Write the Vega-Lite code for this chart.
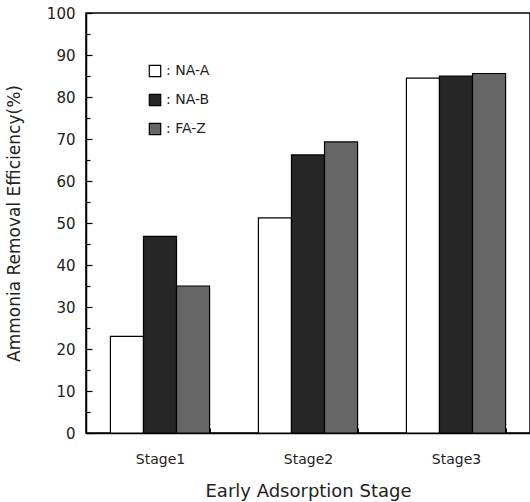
{
  "$schema": "https://vega.github.io/schema/vega-lite/v6.json",
  "autosize": "none",
  "width": 444,
  "height": 420,
  "padding": {"left": 86, "top": 13, "right": 0, "bottom": 69},
  "background": "white",
  "config": {
    "view": {"stroke": "black", "strokeWidth": 1.5},
    "font": "DejaVu Sans"
  },
  "data": {
    "values": [
      {"stage": "Stage1", "adsorbent": "NA-A", "efficiency": 23},
      {"stage": "Stage1", "adsorbent": "NA-B", "efficiency": 46.8},
      {"stage": "Stage1", "adsorbent": "FA-Z", "efficiency": 35},
      {"stage": "Stage2", "adsorbent": "NA-A", "efficiency": 51.2},
      {"stage": "Stage2", "adsorbent": "NA-B", "efficiency": 66.2},
      {"stage": "Stage2", "adsorbent": "FA-Z", "efficiency": 69.3},
      {"stage": "Stage3", "adsorbent": "NA-A", "efficiency": 84.5},
      {"stage": "Stage3", "adsorbent": "NA-B", "efficiency": 85},
      {"stage": "Stage3", "adsorbent": "FA-Z", "efficiency": 85.6}
    ]
  },
  "layer": [
    {
      "mark": {"type": "bar", "stroke": "black", "strokeWidth": 1.2},
      "encoding": {
        "x": {
          "field": "stage", "type": "nominal",
          "scale": {"paddingInner": 0.33, "paddingOuter": 0.165},
          "axis": {
            "title": "Early Adsorption Stage",
            "titleFont": "DejaVu Sans", "titleFontSize": 18, "titleFontWeight": "normal",
            "titleColor": "#222", "titlePadding": 16,
            "labelAngle": 0, "labelFontSize": 14, "labelColor": "#222", "labelPadding": 24,
            "domainColor": "black", "domainWidth": 1.5,
            "tickBand": "extent", "tickSize": -5, "tickColor": "black",
            "grid": false
          }
        },
        "xOffset": {"field": "adsorbent", "type": "nominal", "sort": ["NA-A", "NA-B", "FA-Z"], "scale": {"paddingInner": 0, "paddingOuter": 0}},
        "y": {
          "field": "efficiency", "type": "quantitative",
          "scale": {"domain": [0, 100], "nice": false},
          "axis": {
            "title": "Ammonia Removal Efficiency(%)",
            "titleFont": "DejaVu Sans", "titleFontSize": 17, "titleFontWeight": "normal",
            "titleColor": "#222", "titlePadding": 23,
            "values": [0, 10, 20, 30, 40, 50, 60, 70, 80, 90, 100],
            "labelFontSize": 15, "labelColor": "#222", "labelPadding": 17,
            "domainColor": "black", "domainWidth": 1.5,
            "tickSize": -6, "tickColor": "black", "tickWidth": 1.2,
            "grid": false
          }
        },
        "fill": {
          "field": "adsorbent", "type": "nominal",
          "sort": ["NA-A", "NA-B", "FA-Z"],
          "scale": {"domain": ["NA-A", "NA-B", "FA-Z"], "range": ["#ffffff", "#262626", "#666666"]},
          "legend": {
            "orient": "none", "legendX": 62, "legendY": 51,
            "title": null,
            "symbolType": "square", "symbolSize": 130, "symbolStrokeColor": "black", "symbolStrokeWidth": 1.2,
            "labelExpr": "': ' + datum.label",
            "labelFontSize": 14, "labelColor": "#222", "rowPadding": 11, "labelOffset": 4
          }
        }
      }
    },
    {
      "mark": {"type": "bar", "opacity": 0},
      "encoding": {
        "y": {
          "field": "efficiency", "type": "quantitative",
          "axis": {
            "orient": "left", "title": null, "labels": false, "domain": false,
            "values": [5, 15, 25, 35, 45, 55, 65, 75, 85, 95],
            "tickSize": -4, "tickColor": "black", "tickWidth": 1.2, "grid": false
          }
        }
      }
    }
  ],
  "resolve": {"axis": {"y": "independent"}}
}
